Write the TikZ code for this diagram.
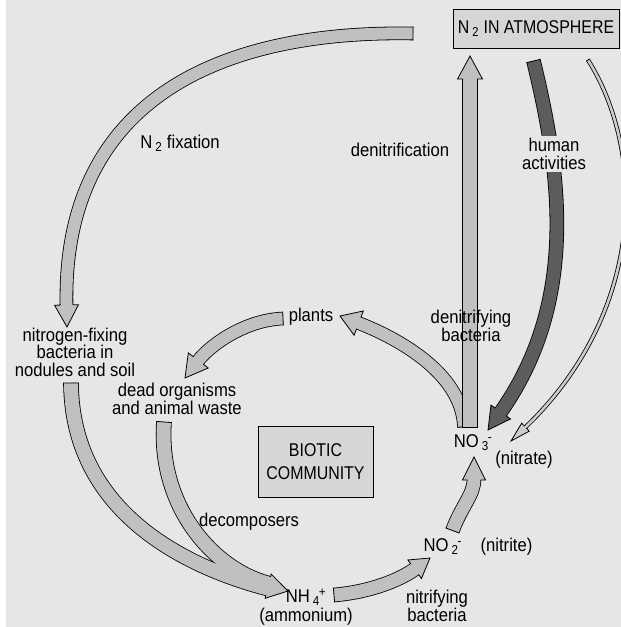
\documentclass[tikz,border=0pt]{standalone}
\usepackage{fontspec}
\setmainfont{Liberation Sans}[FakeStretch=0.9]
\newfontfamily\capsfont{Liberation Sans}[FakeStretch=0.86]
\usepackage{tikz}
\usetikzlibrary{decorations.markings,positioning}
\definecolor{CycleBack}{HTML}{E6E6E6}
\definecolor{CycleGrey}{HTML}{C0C0C0}
\definecolor{CycleDark}{HTML}{5C5C5C}
\definecolor{CycleBox}{HTML}{D6D6D6}
\definecolor{CycleThin}{HTML}{CCCCCC}
\newcommand\ionic[2]{\textsubscript{#1}\kern-.05em\textsuperscript{#2}}
\tikzset{
  lbl/.style={align=center,inner sep=1pt,text=black},
  capbox/.style={draw=black,line width=.8pt,fill=CycleBox,align=center,font=\capsfont\fontsize{18.5}{23}\selectfont},
  fatrim/.style={draw=black,line width=#1pt+1.6pt},
  fatcore/.style={draw=CycleGrey,line width=#1pt},
  fattail/.style={postaction={decorate,decoration={markings,
      mark=at position 0 with {\draw[black,line width=.8pt,shorten >=0pt,shorten <=0pt] (0,-#1/2-0.8) -- (0,#1/2+0.8);}}}},
  fathead/.style n args={4}{shorten >=#1pt-1pt,postaction={decorate,decoration={markings,
      mark=at position 0.9999 with {\filldraw[draw=black,fill=#4,line width=.8pt,line join=miter,shorten >=0pt,shorten <=0pt]
        (-#1,#3/2) -- (-#1,#2/2) -- (0,0) -- (-#1,-#2/2) -- (-#1,-#3/2);}}}}
}
\begin{document}
\begin{tikzpicture}[x=1pt,y=-1pt,font=\fontsize{18.5}{17.5}\selectfont]
  \useasboundingbox (0,0) rectangle (621,627);
  \fill[CycleBack] (6,0) rectangle (621,627);

  % boxes
  \node[capbox,minimum width=166pt,minimum height=39pt] (atm) at (536,28.5) {N\,\textsubscript{2} IN ATMOSPHERE};
  \node[capbox,minimum width=115pt,minimum height=71pt] (biotic) at (315.5,461.5) {BIOTIC\\COMMUNITY};

  % arrow ends
  \coordinate (fixtail) at (413,33.5);
  \coordinate (fixtip) at (67,327);
  \coordinate (fixbase) at (71,383);
  \coordinate (deadtail) at (164,422);
  \coordinate (mergelow) at (268,588.6);
  \coordinate (mergehigh) at (269.2,583.8);
  \coordinate (nh4base) at (267.6,586);
  \coordinate (nh4tip) at (288,591);
  \coordinate (plantstail) at (283,318.5);
  \coordinate (deadtip) at (185,378);
  \coordinate (no3left) at (464,427);
  \coordinate (plantstip) at (340,316);
  \coordinate (no3up) at (470,427);
  \coordinate (atmtip) at (470,56);
  \coordinate (humantail) at (533.5,61);
  \coordinate (humantip) at (488,430);
  \coordinate (thintail) at (588,60);
  \coordinate (thintip) at (511,441);
  \coordinate (nh4tail) at (334,595);
  \coordinate (no2tip) at (430,558);
  \coordinate (no2tail) at (452.5,530.5);
  \coordinate (no3tip) at (474,457);

  % N2 fixation
  \draw[fatcore=12,preaction={fatrim=12},fattail=12,fathead={22}{24}{12}{CycleGrey}]
    (fixtail) .. controls (220,30) and (62,100) .. (fixtip);
  % fixers and decomposers join at NH4
  \draw[fatrim=14] (fixbase) .. controls (72,520) and (200,571) .. (mergelow);
  \draw[fatrim=14] (deadtail) .. controls (158,505) and (212,569) .. (mergehigh);
  \draw[fatcore=14,fattail=14] (fixbase) .. controls (72,520) and (200,571) .. (mergelow);
  \draw[fatcore=14,fattail=14] (deadtail) .. controls (158,505) and (212,569) .. (mergehigh);
  \path[fathead={20.4}{25}{19}{CycleGrey}] (nh4base) -- (nh4tip);
  % plants to dead organisms
  \draw[fatcore=12,preaction={fatrim=12},fattail=12,fathead={22}{25}{12}{CycleGrey}]
    (plantstail) .. controls (245,320) and (210,345) .. (deadtip);
  % nitrate to plants and to the air
  \draw[fatcore=12,preaction={fatrim=12},fattail=12,fathead={20}{26}{12}{CycleGrey}]
    (no3left) .. controls (462,370) and (390,335) .. (plantstip);
  \draw[fatcore=14,preaction={fatrim=14},fattail=14,fathead={23}{25}{14}{CycleGrey}]
    (no3up) -- (atmtip);
  % human activities
  \draw[fatcore=13,draw=CycleDark,preaction={fatrim=13},fattail=13,fathead={22}{24}{13}{CycleDark}]
    (humantail) .. controls (560,170) and (580,300) .. (humantip);
  \draw[fatcore=2.6,draw=CycleThin,preaction={fatrim=2.6},fattail=2.6,fathead={20}{11}{2.6}{CycleThin}]
    (thintail) .. controls (645,150) and (648,310) .. (thintip);
  % nitrification
  \draw[fatcore=13,preaction={fatrim=13},fattail=13,fathead={19}{23}{13}{CycleGrey}]
    (nh4tail) .. controls (370,592) and (400,580) .. (no2tip);
  \draw[fatcore=13,preaction={fatrim=13},fattail=13,fathead={23}{23}{13}{CycleGrey}]
    (no2tail) .. controls (462,505) and (474,495) .. (no3tip);

  % labels
  \node[lbl] (fixlbl) at (180,143) {N\,\textsubscript{2} fixation};
  \node[lbl] (denitlbl) at (400,150) {denitrification};
  \node[lbl,fill=CycleBack,inner sep=2pt] (humanlbl) at (554,154) {human\\activities};
  \node[lbl] (plants) at (311,317) {plants};
  \node[lbl] (fixers) at (75,352) {nitrogen-fixing\\bacteria in\\nodules and soil};
  \node[lbl] (dead) at (177,399) {dead organisms\\and animal waste};
  \node[lbl] (decomp) at (249,522) {decomposers};
  \node[lbl] (nh4) at (306,597) {NH\,\ionic{4}{+}};
  \node[lbl,below=0pt of nh4] (ammon) {(ammonium)};
  \node[lbl] (no2) at (478,547) {NO\,\ionic{2}{-}\quad(nitrite)};
  \node[lbl] (nitrif) at (437,606) {nitrifying\\bacteria};
  \node[lbl] (denitrif) at (471,326) {denitrifying\\bacteria};
  \node[lbl] (no3) at (473,443) {NO\,\ionic{3}{-}};
  \node[lbl] (nitrate) at (524,460) {(nitrate)};
\end{tikzpicture}
\end{document}
